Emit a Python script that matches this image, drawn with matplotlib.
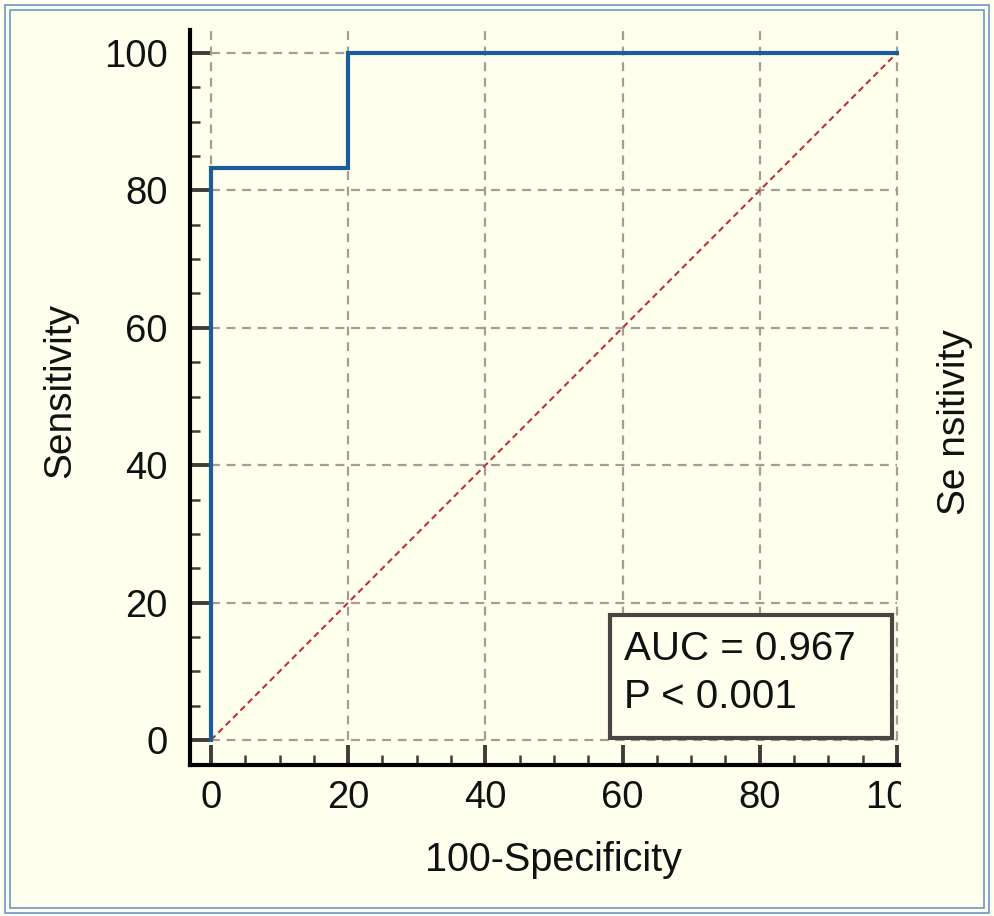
import matplotlib
matplotlib.use("Agg")
import matplotlib.pyplot as plt
from matplotlib.patches import Rectangle
from matplotlib.ticker import MultipleLocator

# ROC curve points (100-Specificity, Sensitivity)
fpr = [0, 0, 20, 20, 100]
tpr = [0, 83.33, 83.33, 100, 100]
diag_x = [0, 100]
diag_y = [0, 100]
major_ticks = [0, 20, 40, 60, 80, 100]
auc_text = "AUC = 0.967"
p_text = "P < 0.001"

bg = "#FFFFEE"
txt_col = "#111111"
plt.rcParams['font.family'] = ['Liberation Sans', 'DejaVu Sans']

fig = plt.figure(figsize=(9.94, 9.16), dpi=100, facecolor=bg)
ax = fig.add_axes([190/994, 1 - 765/916, 709/994, 735/916])
ax.set_facecolor(bg)

xmin = -21/6.86
ymin = -25/6.87
ymax = 710/6.87

# grid, only over the data region
grid_kw = dict(color="#a39d93", linestyle=(0, (4, 3)), linewidth=1.6, zorder=1)
for t in major_ticks:
    ax.plot([0, 100], [t, t], **grid_kw)
    ax.plot([t, t], [0, ymax], **grid_kw)

# chance line and ROC curve
ax.plot(diag_x, diag_y, color="#c0312f", linestyle=(0, (3, 2)), linewidth=1.5, zorder=2)
ax.plot(fpr, tpr, color="#1b5c9a", linewidth=3.0, zorder=3, solid_joinstyle="miter")

# AUC box
box = Rectangle((58.2, 0.3), 41.1, 17.9, facecolor=bg, edgecolor="#4a4540",
                linewidth=3.0, zorder=4)
ax.add_patch(box)
ax.text(60.2, 13.2, auc_text, fontsize=29, color=txt_col, va="center", ha="left", zorder=5)
ax.text(60.2, 6.3, p_text, fontsize=29, color=txt_col, va="center", ha="left", zorder=5)

# spines
for s in ["top", "right"]:
    ax.spines[s].set_visible(False)
for s in ["left", "bottom"]:
    ax.spines[s].set_linewidth(3.0)
    ax.spines[s].set_color("black")

ax.set_xticks(major_ticks)
ax.set_yticks(major_ticks)
ax.xaxis.set_minor_locator(MultipleLocator(5))
ax.yaxis.set_minor_locator(MultipleLocator(5))
ax.tick_params(which="major", direction="in", length=14.5, width=2.8, color="#403c38",
               labelsize=27.5, labelcolor=txt_col)
ax.tick_params(which="minor", direction="in", length=7, width=1.8, color="#403c38")
ax.tick_params(axis="y", which="major", pad=16)
ax.tick_params(axis="x", which="major", pad=11)
ax.set_xlim(xmin, 100.3)
ax.set_ylim(ymin, ymax)

fig.canvas.draw()
clip = Rectangle((0, 0), 901/994, 1, transform=fig.transFigure)
for lbl in ax.get_xticklabels():
    lbl.set_clip_on(True)
    lbl.set_clip_path(clip)

fig.text(553/994, 1 - 860/916, "100-Specificity", fontsize=28.5, color=txt_col,
         ha="center", va="center")
fig.text(60/994, 1 - 390/916, "Sensitivity", fontsize=28, color=txt_col,
         ha="center", va="center", rotation=90)
fig.text(955/994, 1 - 422/916, "Se nsitivity", fontsize=28, color=txt_col,
         ha="center", va="center", rotation=90)

# double blue frame around the picture
for inset in (5, 10):
    fig.add_artist(Rectangle((inset/994, (916 - 913 + inset - 5)/916),
                             (994 - 2*inset)/994, (916 - 2*inset + 2)/916,
                             transform=fig.transFigure, fill=False,
                             edgecolor="#6b95d0", linewidth=1.2))

fig.savefig("out.png", dpi=100, facecolor=bg)
